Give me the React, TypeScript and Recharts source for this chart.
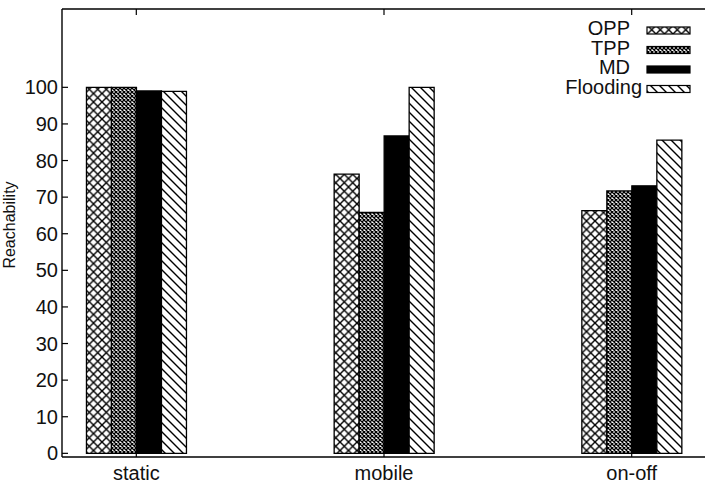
import React from "react";
import { BarChart, Bar, XAxis, YAxis, Legend } from "recharts";

const categories = ["static", "mobile", "on-off"];
const oppValues = [100, 76.3, 66.3];
const tppValues = [100, 65.8, 71.7];
const mdValues = [99.0, 86.7, 73.1];
const floodingValues = [98.9, 100, 85.6];
const yTicks = [0, 10, 20, 30, 40, 50, 60, 70, 80, 90, 100];

const FONT = "'Liberation Sans', Arial, Helvetica, sans-serif";

const series = [
  { key: "OPP", values: oppValues, fill: "url(#fill-opp)" },
  { key: "TPP", values: tppValues, fill: "url(#fill-tpp)" },
  { key: "MD", values: mdValues, fill: "#000" },
  { key: "Flooding", values: floodingValues, fill: "url(#fill-flood)" },
];

// x positions are the category indices on a numeric axis
const data = categories.map((name, i) => {
  const row: Record<string, number | string> = { pos: i, name };
  series.forEach(s => {
    row[s.key] = s.values[i];
  });
  return row;
});

const xTicks = categories.map((_, i) => i);
const xDomain = [-0.3, categories.length - 1 + 0.3];
const yDomain = [-1, 121.4];

// key text right edges (Flooding runs up to the swatch)
const keyTextEnd = [110, 110, 110, 122];

const axisLine = { stroke: "#000", strokeWidth: 1.4 };
const tickLine = { stroke: "#000", strokeWidth: 1.2 };
const tickFont = { fill: "#111", fontSize: 20, fontFamily: FONT };

function KeyBox() {
  return (
    <svg width={185} height={100} style={{ display: "block" }}>
      {series.map((s, i) => {
        const base = 35 + i * 19.5;
        return (
          <g key={s.key}>
            <text
              x={keyTextEnd[i]}
              y={base}
              textAnchor="end"
              fontSize={20}
              fontFamily={FONT}
              fill="#111"
            >
              {s.key}
            </text>
            <rect
              x={127}
              y={base - 8}
              width={43}
              height={7}
              fill={s.fill}
              stroke="#000"
              strokeWidth={1.2}
            />
          </g>
        );
      })}
    </svg>
  );
}

function yLabel(props: any) {
  const vb = props.viewBox || { x: 0, y: 0, width: 0, height: 0 };
  const cx = vb.x + 9;
  const cy = vb.y + vb.height / 2 - 8;
  return (
    <text
      x={cx}
      y={cy}
      transform={`rotate(-90 ${cx} ${cy})`}
      textAnchor="middle"
      dominantBaseline="central"
      fontSize={16}
      fontFamily={FONT}
      fill="#111"
    >
      Reachability
    </text>
  );
}

export default function App() {
  return (
    <div
      style={{
        position: "absolute",
        left: 0,
        top: 0,
        width: 705,
        height: 485,
        overflow: "hidden",
        background: "#fff",
      }}
    >
      <BarChart
        width={712}
        height={485}
        data={data}
        margin={{ top: 0, right: 0, bottom: 0, left: 0 }}
        barGap={0}
        barSize={25}
      >
        <defs>
          <pattern id="fill-opp" width={8.5} height={8.5} patternUnits="userSpaceOnUse">
            <rect width={8.5} height={8.5} fill="#fff" />
            <path d="M0,0 L8.5,8.5 M8.5,0 L0,8.5" stroke="#000" strokeWidth={1.4} />
          </pattern>
          <pattern id="fill-tpp" width={4} height={4} patternUnits="userSpaceOnUse">
            <rect width={4} height={4} fill="#fff" />
            <path d="M0,0 L4,4 M4,0 L0,4" stroke="#000" strokeWidth={1.3} />
          </pattern>
          <pattern id="fill-flood" width={9} height={9} patternUnits="userSpaceOnUse">
            <rect width={9} height={9} fill="#fff" />
            <path d="M-2,7 L2,11 M0,0 L9,9 M7,-2 L11,2" stroke="#000" strokeWidth={1.4} />
          </pattern>
        </defs>

        <XAxis
          dataKey="pos"
          type="number"
          domain={xDomain}
          ticks={xTicks}
          tickFormatter={(v: number) => categories[v] ?? ""}
          height={28}
          tickSize={-6}
          tickMargin={15}
          axisLine={axisLine}
          tickLine={tickLine}
          tick={tickFont}
          interval={0}
        />
        <XAxis
          xAxisId="top"
          orientation="top"
          dataKey="pos"
          type="number"
          domain={xDomain}
          ticks={xTicks}
          tickFormatter={() => ""}
          height={9}
          tickSize={-6}
          axisLine={axisLine}
          tickLine={tickLine}
          interval={0}
        />
        <YAxis
          type="number"
          domain={yDomain}
          ticks={yTicks}
          width={62}
          tickSize={-6}
          tickMargin={10}
          axisLine={axisLine}
          tickLine={tickLine}
          tick={tickFont}
          interval={0}
          label={yLabel}
        />
        <YAxis
          yAxisId="right"
          orientation="right"
          type="number"
          domain={yDomain}
          ticks={yTicks}
          tickFormatter={() => ""}
          width={6}
          tickSize={-6}
          axisLine={axisLine}
          tickLine={tickLine}
          interval={0}
        />

        {series.map(s => (
          <Bar
            key={s.key}
            dataKey={s.key}
            fill={s.fill}
            stroke="#000"
            strokeWidth={1.3}
            isAnimationActive={false}
          />
        ))}

        <Legend
          layout="vertical"
          align="center"
          verticalAlign="middle"
          content={() => <KeyBox />}
          wrapperStyle={{ left: 520, top: 0, width: 185, height: 100 }}
        />
      </BarChart>
    </div>
  );
}
